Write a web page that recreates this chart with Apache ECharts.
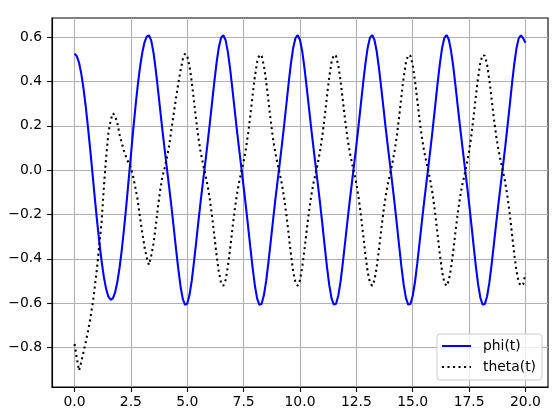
<!DOCTYPE html>
<html><head><meta charset="utf-8">
<script src="https://cdn.jsdelivr.net/npm/echarts@6/dist/echarts.min.js"></script>
<style>html,body{margin:0;padding:0;background:#fff}#c{width:560px;height:413px}</style>
</head><body><div id="c"></div>
<script>
const seriesNames = ['phi(t)', 'theta(t)'];
const xTicks = [0, 2.5, 5, 7.5, 10, 12.5, 15, 17.5, 20];
const yTicks = [-0.8, -0.6, -0.4, -0.2, 0, 0.2, 0.4, 0.6];
const t = [0,0.1,0.2,0.3,0.4,0.5,0.6,0.7,0.8,0.9,1,1.1,1.2,1.3,1.4,1.5,1.6,1.7,1.8,1.9,2,2.1,2.2,2.3,2.4,2.5,2.6,2.7,2.8,2.9,3,3.1,3.2,3.3,3.4,3.5,3.6,3.7,3.8,3.9,4,4.1,4.2,4.3,4.4,4.5,4.6,4.7,4.8,4.9,5,5.1,5.2,5.3,5.4,5.5,5.6,5.7,5.8,5.9,6,6.1,6.2,6.3,6.4,6.5,6.6,6.7,6.8,6.9,7,7.1,7.2,7.3,7.4,7.5,7.6,7.7,7.8,7.9,8,8.1,8.2,8.3,8.4,8.5,8.6,8.7,8.8,8.9,9,9.1,9.2,9.3,9.4,9.5,9.6,9.7,9.8,9.9,10,10.1,10.2,10.3,10.4,10.5,10.6,10.7,10.8,10.9,11,11.1,11.2,11.3,11.4,11.5,11.6,11.7,11.8,11.9,12,12.1,12.2,12.3,12.4,12.5,12.6,12.7,12.8,12.9,13,13.1,13.2,13.3,13.4,13.5,13.6,13.7,13.8,13.9,14,14.1,14.2,14.3,14.4,14.5,14.6,14.7,14.8,14.9,15,15.1,15.2,15.3,15.4,15.5,15.6,15.7,15.8,15.9,16,16.1,16.2,16.3,16.4,16.5,16.6,16.7,16.8,16.9,17,17.1,17.2,17.3,17.4,17.5,17.6,17.7,17.8,17.9,18,18.1,18.2,18.3,18.4,18.5,18.6,18.7,18.8,18.9,19,19.1,19.2,19.3,19.4,19.5,19.6,19.7,19.8,19.9,20];
const phi = [0.526,0.515,0.485,0.435,0.367,0.284,0.190,0.088,-0.019,-0.127,-0.230,-0.326,-0.411,-0.482,-0.536,-0.571,-0.585,
-0.579,-0.552,-0.504,-0.438,-0.356,-0.260,-0.156,-0.044,0.068,0.180,0.284,0.379,0.462,0.528,0.576,0.603,
0.609,0.586,0.532,0.455,0.365,0.271,0.178,0.090,0.005,-0.080,-0.167,-0.260,-0.354,-0.445,-0.524,-0.581,-0.608,-0.602,-0.563,-0.498,-0.413,-0.320,-0.226,-0.135,-0.049,0.035,0.121,0.211,0.305,0.399,0.485,0.555,0.598,
0.609,0.587,0.534,0.458,0.368,0.275,0.182,0.095,0.010,-0.075,-0.163,-0.256,-0.351,-0.442,-0.522,-0.580,-0.608,-0.603,-0.564,-0.500,-0.416,-0.324,-0.230,-0.139,-0.054,0.030,0.117,0.207,0.301,0.396,0.483,0.553,0.597,
0.609,0.588,0.536,0.460,0.372,0.279,0.186,0.099,0.014,-0.071,-0.158,-0.252,-0.347,-0.440,-0.520,-0.579,-0.607,-0.603,-0.566,-0.502,-0.419,-0.327,-0.234,-0.144,-0.058,0.026,0.112,0.203,0.298,0.393,0.480,0.552,0.597,
0.610,0.589,0.538,0.463,0.375,0.283,0.191,0.104,0.019,-0.066,-0.154,-0.248,-0.344,-0.437,-0.518,-0.578,-0.607,-0.604,-0.567,-0.505,-0.422,-0.331,-0.238,-0.148,-0.063,0.021,0.108,0.199,0.294,0.390,0.478,0.550,0.596,
0.610,0.590,0.539,0.466,0.378,0.286,0.195,0.108,0.023,-0.062,-0.150,-0.244,-0.341,-0.434,-0.516,-0.576,-0.607,-0.604,-0.569,-0.507,-0.425,-0.334,-0.242,-0.153,-0.067,0.017,0.103,0.195,0.290,0.387,0.476,0.549,0.595,
0.609,0.595,0.575];
const theta = [-0.785,-0.85,-0.905,-0.865,-0.82,-0.775,-0.725,-0.67,-0.605,-0.525,-0.44,-0.335,-0.232,-0.078,0.056,0.165,0.225,0.257,0.245,0.212,0.160,0.120,0.085,0.055,0.032,0.010,-0.030,-0.080,-0.135,-0.210,-0.280,-0.345,-0.395,
-0.428,-0.386,-0.333,-0.255,-0.165,-0.09,-0.029,0.012,0.058,0.113,0.185,0.255,0.325,0.39,0.45,0.50,0.526,
0.514,0.470,0.398,0.310,0.221,0.142,0.078,0.027,-0.019,-0.069,-0.131,-0.208,-0.295,-0.384,-0.460,-0.509,
-0.522,-0.496,-0.437,-0.355,-0.266,-0.182,-0.111,-0.054,-0.007,0.040,0.096,0.166,0.250,0.340,0.424,0.489,0.521,0.515,0.471,0.400,0.313,0.224,0.145,0.082,0.031,-0.015,-0.065,-0.128,-0.205,-0.292,-0.382,-0.459,-0.508,
-0.522,-0.497,-0.438,-0.357,-0.269,-0.186,-0.114,-0.058,-0.011,0.036,0.093,0.162,0.247,0.337,0.423,0.488,0.521,0.515,0.472,0.402,0.315,0.227,0.149,0.085,0.035,-0.011,-0.061,-0.124,-0.202,-0.290,-0.380,-0.457,-0.508,
-0.522,-0.498,-0.440,-0.360,-0.271,-0.189,-0.118,-0.061,-0.015,0.032,0.089,0.159,0.244,0.335,0.421,0.487,0.520,0.516,0.474,0.404,0.318,0.230,0.152,0.089,0.039,-0.007,-0.058,-0.121,-0.199,-0.287,-0.378,-0.456,-0.507,
-0.523,-0.499,-0.441,-0.362,-0.274,-0.192,-0.121,-0.065,-0.019,0.029,0.085,0.156,0.242,0.333,0.419,0.486,0.520,0.516,0.475,0.406,0.320,0.233,0.156,0.093,0.043,-0.003,-0.054,-0.117,-0.196,-0.285,-0.376,-0.455,-0.506,
-0.522,-0.515,-0.468];

const FONT = 'DejaVu Sans';
const fmt = v => (v < 0 ? '\u2212' : '') + Math.abs(v).toFixed(1);
const chart = echarts.init(document.getElementById('c'), null, {renderer: 'canvas'});
chart.setOption({
  animation: false,
  backgroundColor: '#fff',
  textStyle: {fontFamily: FONT},
  grid: {left: 52, right: 12, top: 18, bottom: 26, show: true, borderColor: '#000', borderWidth: 1.1, backgroundColor: 'transparent'},
  xAxis: {
    type: 'value', min: -1, max: 21,
    axisLine: {show: true, onZero: false, lineStyle: {color: '#000', width: 1.1}},
    axisTick: {show: true, inside: false, length: 4.9, lineStyle: {color: '#000', width: 1.1}, customValues: xTicks},
    axisLabel: {customValues: xTicks, formatter: fmt, color: '#000', fontSize: 13.9, fontFamily: FONT, margin: 8},
    splitLine: {show: true, lineStyle: {color: '#b0b0b0', width: 1.1}}
  },
  yAxis: {
    type: 'value', min: -0.979, max: 0.687,
    axisLine: {show: true, onZero: false, lineStyle: {color: '#000', width: 1.1}},
    axisTick: {show: true, inside: false, length: 4.9, lineStyle: {color: '#000', width: 1.1}, customValues: yTicks},
    axisLabel: {customValues: yTicks, formatter: fmt, color: '#000', fontSize: 13.9, fontFamily: FONT, margin: 10},
    splitLine: {show: true, lineStyle: {color: '#b0b0b0', width: 1.1}}
  },
  legend: {
    orient: 'vertical', right: 18, bottom: 33,
    padding: [5, 6, 6, 4], itemWidth: 29, itemHeight: 14, itemGap: 7,
    backgroundColor: 'rgba(255,255,255,0.8)', borderColor: '#cccccc', borderWidth: 1, borderRadius: 3,
    itemStyle: {opacity: 0},
    textStyle: {fontSize: 13.9, fontFamily: FONT, color: '#000', padding: [0, 0, 0, 7]},
    data: seriesNames
  },
  series: [
    {name: seriesNames[0], type: 'line', data: t.map((x, i) => [x, phi[i]]), symbol: 'none', showSymbol: false,
     lineStyle: {color: '#0000ff', width: 2.08}, itemStyle: {color: '#0000ff'}},
    {name: seriesNames[1], type: 'line', data: t.map((x, i) => [x, theta[i]]), symbol: 'none', showSymbol: false,
     lineStyle: {color: '#000', width: 2.08, type: [2.08, 3.44]}, itemStyle: {color: '#000'}}
  ]
});
</script></body></html>
